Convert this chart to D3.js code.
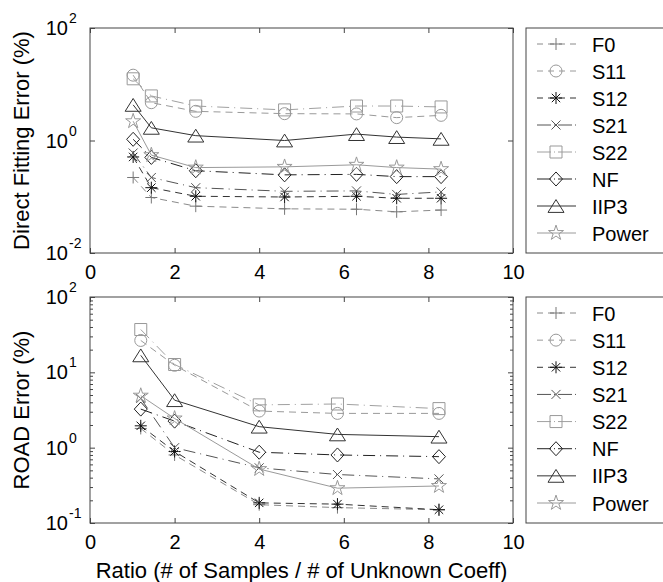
<!DOCTYPE html>
<html>
<head>
<meta charset="utf-8">
<script src="https://cdn.jsdelivr.net/npm/d3@7"></script>
<style>
  body { margin: 0; background: #fff; }
  svg { font-family: "Liberation Sans", Arial, sans-serif; }
</style>
</head>
<body>
<div id="chart"></div>
<script>
// series names, in legend order
var seriesNames = ['F0', 'S11', 'S12', 'S21', 'S22', 'NF', 'IIP3', 'Power'];

// top panel: direct fitting error (%)
var directX     = [1.02, 1.45, 2.5, 4.6, 6.3, 7.25, 8.3];
var directF0    = [0.22, 0.097, 0.068, 0.061, 0.06, 0.054, 0.058];
var directS11   = [14.5, 4.7, 3.3, 3.0, 2.97, 2.55, 2.8];
var directS12   = [0.51, 0.145, 0.102, 0.099, 0.102, 0.094, 0.094];
var directS21   = [0.6, 0.22, 0.145, 0.125, 0.127, 0.11, 0.122];
var directS22   = [12.5, 6.2, 4.1, 3.5, 4.1, 4.1, 3.95];
var directNF    = [1.05, 0.5, 0.29, 0.245, 0.25, 0.228, 0.228];
var directIIP3  = [4.3, 1.68, 1.22, 1.0, 1.3, 1.15, 1.07];
var directPower = [2.2, 0.55, 0.33, 0.34, 0.37, 0.33, 0.31];

// bottom panel: ROAD error (%)
var roadX     = [1.2, 2.0, 4.0, 5.85, 8.25];
var roadF0    = [1.8, 0.8, 0.175, 0.16, 0.15];
var roadS11   = [26.5, 12.4, 3.06, 2.85, 2.85];
var roadS12   = [1.95, 0.89, 0.185, 0.178, 0.15];
var roadS21   = [4.5, 1.0, 0.54, 0.44, 0.385];
var roadS22   = [37, 12.7, 3.7, 3.8, 3.3];
var roadNF    = [3.25, 2.25, 0.87, 0.8, 0.76];
var roadIIP3  = [16.8, 4.27, 1.9, 1.5, 1.4];
var roadPower = [4.9, 2.44, 0.52, 0.29, 0.31];

var xTicks = [0, 2, 4, 6, 8, 10];

// ---- marker shapes (matlab-ish, open) ----
var markPlus = { draw: function(c, s) { var r = Math.sqrt(s) / 2;
  c.moveTo(-r, 0); c.lineTo(r, 0); c.moveTo(0, -r); c.lineTo(0, r); } };
var markX = { draw: function(c, s) { var r = Math.sqrt(s) / 2 * 0.75;
  c.moveTo(-r, -r); c.lineTo(r, r); c.moveTo(-r, r); c.lineTo(r, -r); } };
var markAsterisk = { draw: function(c, s) { var r = Math.sqrt(s) / 2, d = r * 0.7;
  c.moveTo(-r, 0); c.lineTo(r, 0); c.moveTo(0, -r); c.lineTo(0, r);
  c.moveTo(-d, -d); c.lineTo(d, d); c.moveTo(-d, d); c.lineTo(d, -d); } };
var markCircle = { draw: function(c, s) { var r = Math.sqrt(s) / 2;
  c.moveTo(r, 0); c.arc(0, 0, r, 0, 2 * Math.PI); } };
var markSquare = { draw: function(c, s) { var r = Math.sqrt(s) / 2;
  c.rect(-r, -r, 2 * r, 2 * r); } };
var markDiamond = { draw: function(c, s) { var r = Math.sqrt(s) / 2;
  c.moveTo(0, -r * 1.08); c.lineTo(r, 0); c.lineTo(0, r * 1.08); c.lineTo(-r, 0); c.closePath(); } };
var markTriangle = { draw: function(c, s) { var r = Math.sqrt(s) / 2;
  c.moveTo(0, -r * 0.8); c.lineTo(r, r * 0.8); c.lineTo(-r, r * 0.8); c.closePath(); } };

// style for each series
var styles = {
  F0:    { line: '#8a8a8a', mark: '#777', dash: '7,5',        type: markPlus,     size: 144 },
  S11:   { line: '#9a9a9a', mark: '#999', dash: '7,5',        type: markCircle,   size: 144 },
  S12:   { line: '#333',    mark: '#111', dash: '7,5',        type: markAsterisk, size: 144 },
  S21:   { line: '#555',    mark: '#555', dash: '12,5,1,5',   type: markX,        size: 144 },
  S22:   { line: '#a0a0a0', mark: '#999', dash: '12,5,1,5',   type: markSquare,   size: 144 },
  NF:    { line: '#222',    mark: '#222', dash: '12,5,1,5',   type: markDiamond,  size: 169 },
  IIP3:  { line: '#333',    mark: '#333', dash: null,         type: markTriangle, size: 256 },
  Power: { line: '#9a9a9a', mark: '#999', dash: null,         type: d3.symbolStar, size: 70 }
};

var panels = [
  { top: 28, bottom: 253, domain: [1e-2, 1e2], majors: [-2, 0, 2], minor: false,
    label: 'Direct Fitting Error (%)', x: directX,
    values: [directF0, directS11, directS12, directS21, directS22, directNF, directIIP3, directPower] },
  { top: 297, bottom: 523, domain: [1e-1, 1e2], majors: [-1, 0, 1, 2], minor: true,
    label: 'ROAD Error (%)', x: roadX,
    values: [roadF0, roadS11, roadS12, roadS21, roadS22, roadNF, roadIIP3, roadPower] }
];

var width = 663, height = 582;
var left = 90, right = 513;

var svg = d3.select('#chart').append('svg')
  .attr('width', width)
  .attr('height', height);

var x = d3.scaleLinear().domain([0, 10]).range([left, right]);

panels.forEach(function(p, pi) {
  var y = d3.scaleLog().domain(p.domain).range([p.bottom, p.top]);
  var g = svg.append('g');

  // ticks (inward), bottom + top
  var xb = g.append('g').attr('transform', 'translate(0,' + p.bottom + ')')
    .call(d3.axisBottom(x).tickValues(xTicks).tickSize(-5).tickPadding(12).tickFormat(d3.format('d')));
  g.append('g').attr('transform', 'translate(0,' + p.top + ')')
    .call(d3.axisTop(x).tickValues(xTicks).tickSize(-5).tickFormat(''));
  var majorVals = p.majors.map(function(e) { return Math.pow(10, e); });
  g.append('g').attr('transform', 'translate(' + left + ',0)')
    .call(d3.axisLeft(y).tickValues(majorVals).tickSize(-5).tickFormat(''));
  g.append('g').attr('transform', 'translate(' + right + ',0)')
    .call(d3.axisRight(y).tickValues(majorVals).tickSize(-5).tickFormat(''));

  // log minor ticks on the ROAD panel
  if (p.minor) {
    var minors = [];
    for (var e = p.majors[0]; e < p.majors[p.majors.length - 1]; e++) {
      for (var k = 2; k <= 9; k++) minors.push(k * Math.pow(10, e));
    }
    g.append('g').attr('transform', 'translate(' + left + ',0)')
      .call(d3.axisLeft(y).tickValues(minors).tickSize(-3).tickFormat(''));
    g.append('g').attr('transform', 'translate(' + right + ',0)')
      .call(d3.axisRight(y).tickValues(minors).tickSize(-3).tickFormat(''));
  }

  g.selectAll('.domain').remove();
  g.selectAll('.tick line').attr('stroke', '#444');
  xb.selectAll('text').attr('font-size', 20).attr('fill', '#000')
    .attr('font-family', '"Liberation Sans", Arial, sans-serif');

  // frame
  g.append('rect')
    .attr('x', left).attr('y', p.top)
    .attr('width', right - left).attr('height', p.bottom - p.top)
    .attr('fill', 'none').attr('stroke', '#444').attr('stroke-width', 1);

  // y tick labels 10^n
  p.majors.forEach(function(e) {
    var ty = y(Math.pow(10, e));
    g.append('text').attr('x', 68).attr('y', ty + 7)
      .attr('text-anchor', 'end').attr('font-size', 20).text('10');
    g.append('text').attr('x', 69).attr('y', ty - 5)
      .attr('font-size', 14).text(e);
  });

  // y label
  g.append('text')
    .attr('transform', 'translate(29,' + ((p.top + p.bottom) / 2) + ') rotate(-90)')
    .attr('text-anchor', 'middle').attr('font-size', 22).text(p.label);

  // series lines + markers
  var line = d3.line()
    .x(function(d) { return x(d[0]); })
    .y(function(d) { return y(d[1]); });

  seriesNames.forEach(function(name, si) {
    var st = styles[name];
    var pts = p.x.map(function(xv, i) { return [xv, p.values[si][i]]; });
    g.append('path')
      .datum(pts)
      .attr('d', line)
      .attr('fill', 'none')
      .attr('stroke', st.line)
      .attr('stroke-width', 1)
      .attr('stroke-dasharray', st.dash);
    g.selectAll('path.m' + si)
      .data(pts)
      .enter().append('path')
      .attr('class', 'm' + si)
      .attr('transform', function(d) { return 'translate(' + x(d[0]) + ',' + y(d[1]) + ')'; })
      .attr('d', d3.symbol().type(st.type).size(st.size))
      .attr('fill', 'none')
      .attr('stroke', st.mark)
      .attr('stroke-width', 1);
  });

  // legend box
  var lg = g.append('g');
  lg.append('rect')
    .attr('x', 526).attr('y', p.top)
    .attr('width', 160).attr('height', p.bottom - p.top)
    .attr('fill', '#fff').attr('stroke', '#444');
  var rowH = (p.bottom - p.top - 36) / 7;
  seriesNames.forEach(function(name, si) {
    var st = styles[name];
    var ry = p.top + 16 + si * rowH;
    lg.append('line')
      .attr('x1', 537).attr('x2', 576).attr('y1', ry).attr('y2', ry)
      .attr('stroke', st.line).attr('stroke-width', 1)
      .attr('stroke-dasharray', st.dash ? (st.dash === '7,5' ? '6,5' : '14,3,1,3') : null);
    lg.append('path')
      .attr('transform', 'translate(556,' + ry + ')')
      .attr('d', d3.symbol().type(st.type).size(st.size))
      .attr('fill', 'none').attr('stroke', st.mark);
    lg.append('text')
      .attr('x', 592).attr('y', ry + 7.5)
      .attr('font-size', 20).text(name);
  });
});

// shared x label
svg.append('text')
  .attr('x', (left + right) / 2).attr('y', 578)
  .attr('text-anchor', 'middle').attr('font-size', 22)
  .text('Ratio (# of Samples / # of Unknown Coeff)');
</script>
</body>
</html>
